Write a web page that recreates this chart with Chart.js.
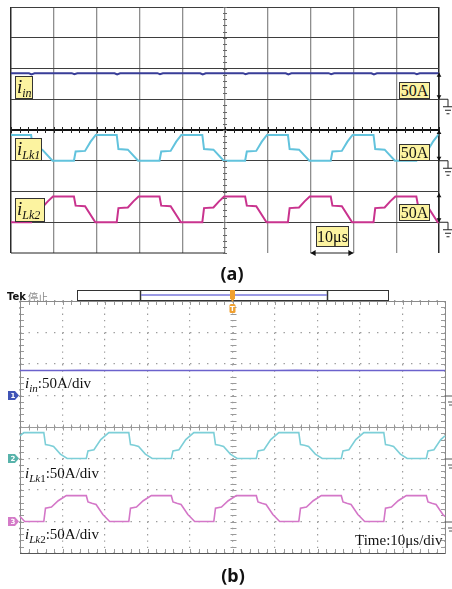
<!DOCTYPE html>
<html><head><meta charset="utf-8">
<script src="https://cdn.jsdelivr.net/npm/chart.js@4.4.1/dist/chart.umd.min.js"></script>
<style>
html,body{margin:0;padding:0;background:#fff;width:452px;height:589px;overflow:hidden;}
#wrap{position:relative;width:452px;height:589px;}
canvas{position:absolute;left:0;top:0;}
.t{position:absolute;white-space:nowrap;line-height:1;color:#111;}
.serif{font-family:'Liberation Serif','DejaVu Serif',serif;}
.t sub{font-size:11px;vertical-align:-4px;line-height:0;}
.ybox{position:absolute;background:#fcf3a0;border:1px solid #333;box-sizing:border-box;font-family:'Liberation Serif',serif;color:#111;white-space:nowrap;}
.ybox.lab{font-size:19px;line-height:19px;padding-left:1px;font-style:italic;}
.ybox.lab sub{font-size:12px;vertical-align:-4px;line-height:0;}
.ybox.val{font-size:16px;line-height:16px;text-align:center;}
.cap{position:absolute;font-family:'Noto Sans','DejaVu Sans',sans-serif;font-weight:bold;font-size:18px;line-height:1;width:60px;text-align:center;color:#111;}
</style></head>
<body><div id="wrap">
<canvas id="ca" width="452" height="589"></canvas>
<canvas id="cb" width="452" height="589"></canvas>

<div class="ybox lab" style="left:15px;top:76px;width:18px;height:23px;">i<sub>in</sub></div>
<div class="ybox lab" style="left:15px;top:138px;width:27px;height:23px;">i<sub>Lk1</sub></div>
<div class="ybox lab" style="left:15px;top:198px;width:30px;height:24px;">i<sub>Lk2</sub></div>
<div class="ybox val" style="left:399px;top:82px;width:31px;height:17px;">50A</div>
<div class="ybox val" style="left:399px;top:144px;width:31px;height:17px;">50A</div>
<div class="ybox val" style="left:399px;top:204px;width:31px;height:17px;">50A</div>
<div class="ybox val" style="left:316px;top:226px;width:33px;height:21px;line-height:20px;">10μs</div>
<div class="cap" style="left:202px;top:264px;">(a)</div>

<div class="t" style="left:7px;top:292px;font-family:'DejaVu Sans',sans-serif;font-weight:bold;font-size:10px;">Tek</div>
<div class="t" style="left:28px;top:292px;font-family:'Noto Sans CJK SC',sans-serif;font-size:10px;color:#888;">停止</div>

<div class="t serif" style="left:25px;top:376px;font-size:15px;"><i>i</i><sub><i>in</i></sub>:50A/div</div>
<div class="t serif" style="left:25px;top:466px;font-size:15px;"><i>i</i><sub><i>Lk</i>1</sub>:50A/div</div>
<div class="t serif" style="left:25px;top:527px;font-size:15px;"><i>i</i><sub><i>Lk</i>2</sub>:50A/div</div>
<div class="t serif" style="left:355px;top:533px;font-size:15px;">Time:10μs/div</div>
<div class="cap" style="left:203px;top:566px;">(b)</div>
</div>
<script>
// ---------- scales ----------
const usPerDiv = 10;
const ampsPerDiv = 50;
const timeSpanUs = [0, 100];
const divSpan = [0, 8];

// ---------- (a) simulation waveforms : time (μs) / current (A) ----------
const simIinT = [0, 4.2, 4.8, 5.5, 14.2, 14.8, 15.5, 24.2, 24.8, 25.5, 34.2, 34.8, 35.5, 44.2, 44.8, 45.5, 54.2, 54.8, 55.5, 64.2, 64.8, 65.5, 74.2, 74.8, 75.5, 84.2, 84.8, 85.5, 94.2, 94.8, 95.5, 100];
const simIinA = [42.3, 42.3, 40.4, 42.2, 42.4, 40.6, 42.3, 42.3, 40.4, 42.2, 42.4, 40.6, 42.3, 42.3, 40.4, 42.2, 42.4, 40.6, 42.3, 42.3, 40.4, 42.2, 42.4, 40.6, 42.3, 42.3, 40.4, 42.2, 42.4, 40.6, 42.3, 42.3];

const simLk1T = [0, 4.7, 5.1, 7.3, 9.7, 14.7, 15.1, 17.3, 18.6, 19.8, 24.7, 25.1, 27.3, 29.7, 34.7, 35.1, 37.3, 38.6, 39.8, 44.7, 45.1, 47.3, 49.7, 54.7, 55.1, 57.3, 58.6, 59.8, 64.7, 65.1, 67.3, 69.7, 74.7, 75.1, 77.3, 78.6, 79.8, 84.7, 85.1, 87.3, 89.7, 94.7, 95.1, 97.3, 98.6, 99.8, 100];
const simLk1A = [42, 42, 19, 18, 0, 0, 15, 16, 31, 42, 42, 19, 18, 0, 0, 15, 16, 31, 42, 42, 19, 18, 0, 0, 15, 16, 31, 42, 42, 19, 18, 0, 0, 15, 16, 31, 42, 42, 19, 18, 0, 0, 15, 16, 31, 42, 42];

const simLk2T = [0, 4.7, 5.1, 7.3, 8.6, 9.8, 14.7, 15.1, 17.3, 19.7, 24.7, 25.1, 27.3, 28.6, 29.8, 34.7, 35.1, 37.3, 39.7, 44.7, 45.1, 47.3, 48.6, 49.8, 54.7, 55.1, 57.3, 59.7, 64.7, 65.1, 67.3, 68.6, 69.8, 74.7, 75.1, 77.3, 79.7, 84.7, 85.1, 87.3, 88.6, 89.8, 94.7, 95.1, 97.3, 99.7, 100];
const simLk2A = [0, 0, 23, 24, 34, 42, 42, 27, 26, 0, 0, 23, 24, 34, 42, 42, 27, 26, 0, 0, 23, 24, 34, 42, 42, 27, 26, 0, 0, 23, 24, 34, 42, 42, 27, 26, 0, 0, 23, 24, 34, 42, 42, 27, 26, 0, 0];

// ---------- (b) experimental waveforms : time (μs) / current (A) ----------
const expIinT = [0, 5, 10, 15, 20, 25, 30, 35, 40, 45, 50, 55, 60, 65, 70, 75, 80, 85, 90, 95, 100];
const expIinA = [39.6, 39.8, 39.7, 39.9, 39.7, 39.6, 39.8, 39.7, 39.8, 39.6, 39.7, 39.8, 39.7, 39.9, 39.7, 39.8, 39.6, 39.8, 39.7, 39.8, 39.7];

const expLk1T = [0, 0.9, 5.6, 6.0, 6.9, 7.9, 9.5, 11.1, 15.6, 16.0, 17.4, 19.0, 20.9, 25.6, 26.0, 26.9, 27.9, 29.5, 31.1, 35.6, 36.0, 37.4, 39.0, 40.9, 45.6, 46.0, 46.9, 47.9, 49.5, 51.1, 55.6, 56.0, 57.4, 59.0, 60.9, 65.6, 66.0, 66.9, 67.9, 69.5, 71.1, 75.6, 76.0, 77.4, 79.0, 80.9, 85.6, 86.0, 86.9, 87.9, 89.5, 91.1, 95.6, 96.0, 97.4, 99.0, 100];
const expLk1A = [36, 41, 41, 22, 21, 19, 7, 0, 0, 12, 14, 30, 41, 41, 22, 21, 19, 7, 0, 0, 12, 14, 30, 41, 41, 22, 21, 19, 7, 0, 0, 12, 14, 30, 41, 41, 22, 21, 19, 7, 0, 0, 12, 14, 30, 41, 41, 22, 21, 19, 7, 0, 0, 12, 14, 30, 36];

const expLk2T = [0, 1.1, 5.6, 6.0, 7.4, 9.0, 10.9, 15.6, 16.0, 16.9, 17.9, 19.5, 21.1, 25.6, 26.0, 27.4, 29.0, 30.9, 35.6, 36.0, 36.9, 37.9, 39.5, 41.1, 45.6, 46.0, 47.4, 49.0, 50.9, 55.6, 56.0, 56.9, 57.9, 59.5, 61.1, 65.6, 66.0, 67.4, 69.0, 70.9, 75.6, 76.0, 76.9, 77.9, 79.5, 81.1, 85.6, 86.0, 87.4, 89.0, 90.9, 95.6, 96.0, 96.9, 97.9, 99.5, 100];
const expLk2A = [8, 0, 0, 21, 23, 33, 41, 41, 31, 29, 27, 11, 0, 0, 21, 23, 33, 41, 41, 31, 29, 27, 11, 0, 0, 21, 23, 33, 41, 41, 31, 29, 27, 11, 0, 0, 21, 23, 33, 41, 41, 31, 29, 27, 11, 0, 0, 21, 23, 33, 41, 41, 31, 29, 27, 11, 8];

// channel ground positions (in divisions from bottom)
const groundDiv = {yIn: 5, yLk1: 3, yLk2: 1};

function pts(t, a) { return t.map((v, i) => ({x: v, y: a[i]})); }
function chScale(g) { return {type: 'linear', display: false, min: -g * ampsPerDiv, max: (divSpan[1] - g) * ampsPerDiv}; }
function ds(label, t, a, color, axis, w) {
  return {label, data: pts(t, a), yAxisID: axis, borderColor: color, borderWidth: w,
          pointRadius: 0, tension: 0, fill: false, clip: false};
}
function L(ctx, x1, y1, x2, y2) { ctx.beginPath(); ctx.moveTo(x1, y1); ctx.lineTo(x2, y2); ctx.stroke(); }
function tri(ctx, x, y, dir, s) {
  s = s || 4; ctx.beginPath();
  if (dir === 'up') { ctx.moveTo(x, y); ctx.lineTo(x - s * 0.6, y + s); ctx.lineTo(x + s * 0.6, y + s); }
  if (dir === 'down') { ctx.moveTo(x, y); ctx.lineTo(x - s * 0.6, y - s); ctx.lineTo(x + s * 0.6, y - s); }
  if (dir === 'left') { ctx.moveTo(x, y); ctx.lineTo(x + s, y - s * 0.6); ctx.lineTo(x + s, y + s * 0.6); }
  if (dir === 'right') { ctx.moveTo(x, y); ctx.lineTo(x - s, y - s * 0.6); ctx.lineTo(x - s, y + s * 0.6); }
  ctx.closePath(); ctx.fill();
}
const tv = c => (c.tick ? c.tick.value : null);

// ---------- chart (a) ----------
const decoA = {id: 'decoA', afterDraw(chart) {
  const {ctx, chartArea: a, scales: s} = chart;
  ctx.save();
  ctx.strokeStyle = '#222'; ctx.fillStyle = '#111'; ctx.lineWidth = 1;
  L(ctx, a.left, a.bottom, s.x.getPixelForValue(50), a.bottom);
  const yc = s.y.getPixelForValue(4), xc = s.x.getPixelForValue(50);
  for (let t = 0; t <= 100; t += 2) { const p = Math.round(s.x.getPixelForValue(t)) + 0.5; L(ctx, p, yc - 3, p, yc + 3); }
  ctx.strokeStyle = '#666';
  for (let k = 0; k <= 40; k++) { const p = Math.round(s.y.getPixelForValue(k * 0.2)) + 0.5; L(ctx, xc - 2, p, xc + 2, p); }
  ctx.strokeStyle = '#222';
  [['yIn', 43], ['yLk1', 50], ['yLk2', 47]].forEach(([id, top]) => {
    const sc = s[id], g = sc.getPixelForValue(0), tp = sc.getPixelForValue(top), x = a.right;
    L(ctx, x, tp, x, g);
    tri(ctx, x, tp, 'up'); tri(ctx, x, g, 'down');
    L(ctx, x, g, x + 9, g); L(ctx, x + 9, g, x + 9, g + 7.5);
    L(ctx, x + 4, g + 7.5, x + 14, g + 7.5); L(ctx, x + 6, g + 11, x + 12, g + 11); L(ctx, x + 7.5, g + 14.5, x + 10.5, g + 14.5);
  });
  const x1 = s.x.getPixelForValue(70), x2 = s.x.getPixelForValue(80), yb = a.bottom;
  L(ctx, x1, yb, x2, yb); tri(ctx, x1, yb, 'left', 5); tri(ctx, x2, yb, 'right', 5);
  ctx.restore();
}};

new Chart(document.getElementById('ca'), {
  type: 'line',
  data: {datasets: [
    ds('i_in', simIinT, simIinA, '#383d98', 'yIn', 2),
    ds('i_Lk1', simLk1T, simLk1A, '#62c3dd', 'yLk1', 2),
    ds('i_Lk2', simLk2T, simLk2A, '#c9338e', 'yLk2', 2)
  ]},
  options: {
    responsive: false, animation: false, devicePixelRatio: 1, events: [],
    layout: {padding: {left: 11, top: 7, right: 13, bottom: 336}},
    plugins: {legend: {display: false}, tooltip: {enabled: false}},
    scales: {
      x: {type: 'linear', min: timeSpanUs[0], max: timeSpanUs[1], ticks: {stepSize: usPerDiv, display: false},
          grid: {drawTicks: false, color: c => (tv(c) === 0 || tv(c) === 100) ? '#2a2a2a' : '#8e8e8e',
                 lineWidth: c => (tv(c) === 0 || tv(c) === 100) ? 1.5 : 1.3}, border: {display: false}},
      y: {type: 'linear', min: divSpan[0], max: divSpan[1], ticks: {stepSize: 1, display: false},
          grid: {drawTicks: false, color: c => tv(c) === 0 ? 'rgba(0,0,0,0)' : (tv(c) === 4 ? '#111' : '#3e3e3e'),
                 lineWidth: c => tv(c) === 4 ? 2 : 1}, border: {display: false}},
      yIn: chScale(groundDiv.yIn), yLk1: chScale(groundDiv.yLk1), yLk2: chScale(groundDiv.yLk2)
    }
  },
  plugins: [decoA]
});

// ---------- chart (b) ----------
const decoB = {id: 'decoB',
  beforeDatasetsDraw(chart) {
    const {ctx, chartArea: a, scales: s} = chart;
    ctx.save();
    ctx.strokeStyle = '#9a9a9a'; ctx.lineWidth = 1;
    const yc = Math.round(s.y.getPixelForValue(4)) + 0.5, xc = Math.round(s.x.getPixelForValue(50)) + 0.5;
    L(ctx, a.left, yc, a.right, yc);
    for (let t = 0; t <= 100; t += 2) {
      const p = Math.round(s.x.getPixelForValue(t)) + 0.5;
      L(ctx, p, a.top, p, a.top + 4); L(ctx, p, a.bottom - 4, p, a.bottom); L(ctx, p, yc - 3, p, yc + 3);
    }
    for (let k = 0; k <= 40; k++) {
      const p = Math.round(s.y.getPixelForValue(k * 0.2)) + 0.5;
      L(ctx, a.left, p, a.left + 4, p); L(ctx, a.right - 4, p, a.right, p); L(ctx, xc - 3, p, xc + 3, p);
    }
    ctx.strokeStyle = '#8a8a8a';
    ctx.strokeRect(Math.round(a.left) + 0.5, Math.round(a.top) + 0.5, Math.round(a.right - a.left), Math.round(a.bottom - a.top));
    ctx.strokeStyle = '#555';
    L(ctx, a.left, Math.round(a.bottom) + 0.5, a.right, Math.round(a.bottom) + 0.5);
    ctx.restore();
  },
  afterDraw(chart) {
    const {ctx, chartArea: a, scales: s} = chart;
    ctx.save();
    // top record bar
    ctx.strokeStyle = '#333'; ctx.lineWidth = 1;
    ctx.strokeRect(77.5, 290.5, 311, 10);
    ctx.lineWidth = 1.5; L(ctx, 140.5, 290, 140.5, 301); L(ctx, 327.5, 290, 327.5, 301);
    ctx.strokeStyle = '#7a78dd'; ctx.lineWidth = 1.5; L(ctx, 141, 295, 327, 295);
    // trigger marker
    const xt = s.x.getPixelForValue(50);
    ctx.fillStyle = '#f0a030';
    ctx.fillRect(xt - 2.5, 290, 5, 9); tri(ctx, xt, 302, 'down', 3);
    ctx.beginPath(); ctx.roundRect ? ctx.roundRect(xt - 3, 304, 6, 9, 1.5) : ctx.rect(xt - 3, 304, 6, 9); ctx.fill();
    ctx.fillStyle = '#fff'; ctx.font = 'bold 7px DejaVu Sans'; ctx.textAlign = 'center'; ctx.textBaseline = 'middle';
    ctx.fillText('T', xt, 309);
    // channel markers
    [['yIn', '#3f54b6', '1'], ['yLk1', '#58b3ab', '2'], ['yLk2', '#d47bc8', '3']].forEach(([id, col, n]) => {
      const g = s[id].getPixelForValue(0);
      ctx.fillStyle = col; ctx.beginPath();
      ctx.moveTo(8, g - 4.5); ctx.lineTo(15, g - 4.5); ctx.lineTo(19, g); ctx.lineTo(15, g + 4.5); ctx.lineTo(8, g + 4.5);
      ctx.closePath(); ctx.fill();
      ctx.fillStyle = '#fff'; ctx.font = 'bold 7px DejaVu Sans'; ctx.fillText(n, 13, g + 0.5);
      ctx.strokeStyle = '#555'; ctx.lineWidth = 1;
      L(ctx, a.right, g + 0.5, 452, g + 0.5);
      L(ctx, 448, g + 6.5, 452, g + 6.5); L(ctx, 449, g + 9.5, 452, g + 9.5);
    });
    ctx.restore();
  }
};

new Chart(document.getElementById('cb'), {
  type: 'line',
  data: {datasets: [
    ds('i_in', expIinT, expIinA, '#6b62cc', 'yIn', 1.6),
    ds('i_Lk1', expLk1T, expLk1A, '#7dcfd8', 'yLk1', 1.6),
    ds('i_Lk2', expLk2T, expLk2A, '#d477c8', 'yLk2', 1.6)
  ]},
  options: {
    responsive: false, animation: false, devicePixelRatio: 1, events: [],
    layout: {padding: {left: 20, top: 301, right: 7, bottom: 36}},
    plugins: {legend: {display: false}, tooltip: {enabled: false}},
    scales: {
      x: {type: 'linear', min: timeSpanUs[0], max: timeSpanUs[1], ticks: {stepSize: usPerDiv, display: false},
          grid: {drawTicks: false, color: '#9c9c9c', lineWidth: 1.2}, border: {display: false, dash: [1.4, 4.9]}},
      y: {type: 'linear', min: divSpan[0], max: divSpan[1], ticks: {stepSize: 1, display: false},
          grid: {drawTicks: false, color: '#9c9c9c', lineWidth: 1.2}, border: {display: false, dash: [1.4, 7.1]}},
      yIn: chScale(groundDiv.yIn), yLk1: chScale(groundDiv.yLk1), yLk2: chScale(groundDiv.yLk2)
    }
  },
  plugins: [decoB]
});
</script>
</body></html>
